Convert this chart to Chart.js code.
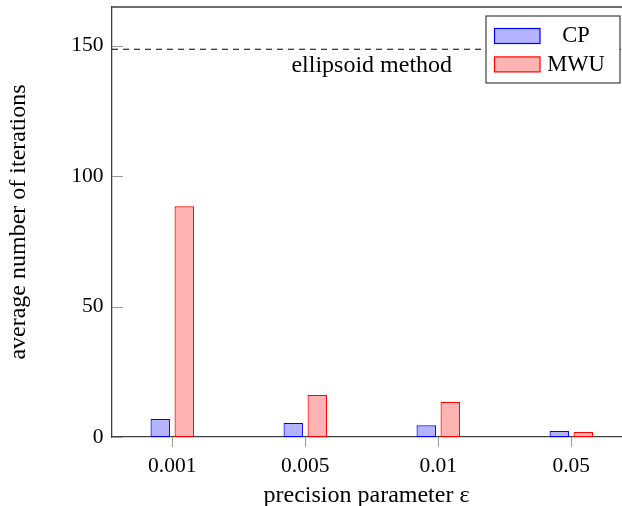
<!DOCTYPE html>
<html>
<head>
<meta charset="utf-8">
<script src="https://cdn.jsdelivr.net/npm/chart.js@4"></script>
<style>
  html, body { margin: 0; padding: 0; background: #fff; }
</style>
</head>
<body>
<canvas id="barChart" width="622" height="506"></canvas>
<script>
        const categories = ['0.001', '0.005', '0.01', '0.05'];
        const cpValues = [6.9, 5.4, 4.5, 2.3];
        const mwuValues = [88.4, 16.1, 13.5, 1.9];
        const yTicks = [0, 50, 100, 150];
        const ellipsoidLevel = 148.6;
        const ellipsoidLabel = 'ellipsoid method';

        const serif = '"Liberation Serif", "DejaVu Serif", serif';
        const axisGray = '#404040';
        Chart.defaults.color = '#000';
        Chart.defaults.font.family = serif;
        Chart.defaults.font.size = 21.5;

        // dashed reference line, inner y ticks, top frame and the boxed legend
        const extras = {
            id: 'extras',
            beforeDatasetsDraw(chart) {
                const { ctx, chartArea: a, scales: { x, y } } = chart;
                ctx.save();
                ctx.strokeStyle = '#9a9a9a';
                ctx.lineWidth = 1;
                yTicks.forEach(v => {
                    const py = Math.round(y.getPixelForValue(v)) + 0.5;
                    ctx.beginPath();
                    ctx.moveTo(a.left, py);
                    ctx.lineTo(a.left + 11, py);
                    ctx.stroke();
                });
                const ly = y.getPixelForValue(ellipsoidLevel);
                ctx.setLineDash([6, 5]);
                ctx.strokeStyle = '#000';
                ctx.lineWidth = 1.2;
                ctx.beginPath();
                ctx.moveTo(a.left, ly);
                ctx.lineTo(a.right, ly);
                ctx.stroke();
                ctx.setLineDash([]);
                ctx.font = '24px ' + serif;
                ctx.fillStyle = '#000';
                ctx.textAlign = 'center';
                ctx.textBaseline = 'alphabetic';
                ctx.fillText(ellipsoidLabel, x.getPixelForValue(1.5), ly + 22.5);
                ctx.restore();
            },
            afterDraw(chart) {
                const { ctx, chartArea: a } = chart;
                ctx.save();
                ctx.strokeStyle = axisGray;
                ctx.lineWidth = 1.3;
                ctx.beginPath();
                ctx.moveTo(a.left, a.top);
                ctx.lineTo(a.right + 1, a.top);
                ctx.stroke();

                const bx = 486, by = 16, bw = 134, bh = 67;
                ctx.fillStyle = '#fff';
                ctx.fillRect(bx, by, bw, bh);
                ctx.strokeStyle = axisGray;
                ctx.lineWidth = 1.2;
                ctx.strokeRect(bx, by, bw, bh);
                ctx.font = '22.5px ' + serif;
                ctx.textAlign = 'center';
                ctx.textBaseline = 'middle';
                chart.data.datasets.forEach((ds, i) => {
                    const sy = 28.5 + i * 28.4;
                    ctx.fillStyle = ds.backgroundColor;
                    ctx.fillRect(494.5, sy, 45.5, 15);
                    ctx.strokeStyle = ds.borderColor;
                    ctx.lineWidth = 1.2;
                    ctx.strokeRect(494.5, sy, 45.5, 15);
                    ctx.fillStyle = '#000';
                    ctx.fillText(ds.label, 576, sy + 8);
                });
                ctx.restore();
            }
        };

        const barCtx = document.getElementById('barChart');
        new Chart(barCtx, {
            type: 'bar',
            data: {
                datasets: [
                    {
                        label: 'CP',
                        data: categories.map((c, i) => ({ x: i, y: cpValues[i] })),
                        backgroundColor: 'rgb(179,179,255)',
                        borderColor: 'rgb(0,0,255)',
                        borderWidth: 1.2,
                        borderSkipped: false
                    },
                    {
                        label: 'MWU',
                        data: categories.map((c, i) => ({ x: i, y: mwuValues[i] })),
                        backgroundColor: 'rgb(255,179,179)',
                        borderColor: 'rgb(255,0,0)',
                        borderWidth: 1.2,
                        borderSkipped: false
                    }
                ]
            },
            options: {
                responsive: false,
                animation: false,
                categoryPercentage: 0.361,
                barPercentage: 0.81,
                layout: { padding: { top: 7, right: 1, left: 0, bottom: 0 } },
                plugins: {
                    legend: { display: false },
                    tooltip: { enabled: false }
                },
                scales: {
                    x: {
                        type: 'linear',
                        offset: false,
                        min: -0.453,
                        max: 3.374,
                        afterBuildTicks: s => { s.ticks = categories.map((c, i) => ({ value: i })); },
                        afterFit: s => { s.height = 69; s.paddingLeft = 0; s.paddingRight = 0; },
                        ticks: {
                            callback: v => categories[v],
                            padding: 6.5,
                            maxRotation: 0
                        },
                        grid: {
                            offset: false,
                            drawOnChartArea: false,
                            drawTicks: true,
                            tickLength: 10,
                            color: '#9a9a9a'
                        },
                        border: { color: axisGray, width: 1.3 },
                        title: {
                            display: true,
                            text: 'precision parameter ε',
                            font: { size: 24 },
                            padding: { top: 0, bottom: -4 }
                        }
                    },
                    y: {
                        min: 0,
                        max: 164.8,
                        afterBuildTicks: s => { s.ticks = yTicks.map(v => ({ value: v })); },
                        afterFit: s => { s.width = 112; s.paddingTop = 0; s.paddingBottom = 0; },
                        ticks: { padding: 8.5 },
                        grid: { display: false, drawTicks: false },
                        border: { color: axisGray, width: 1.3 },
                        title: {
                            display: true,
                            text: 'average number of iterations',
                            font: { size: 24 },
                            padding: { top: 4, bottom: 0 }
                        }
                    }
                }
            },
            plugins: [extras]
        });
</script>
</body>
</html>
